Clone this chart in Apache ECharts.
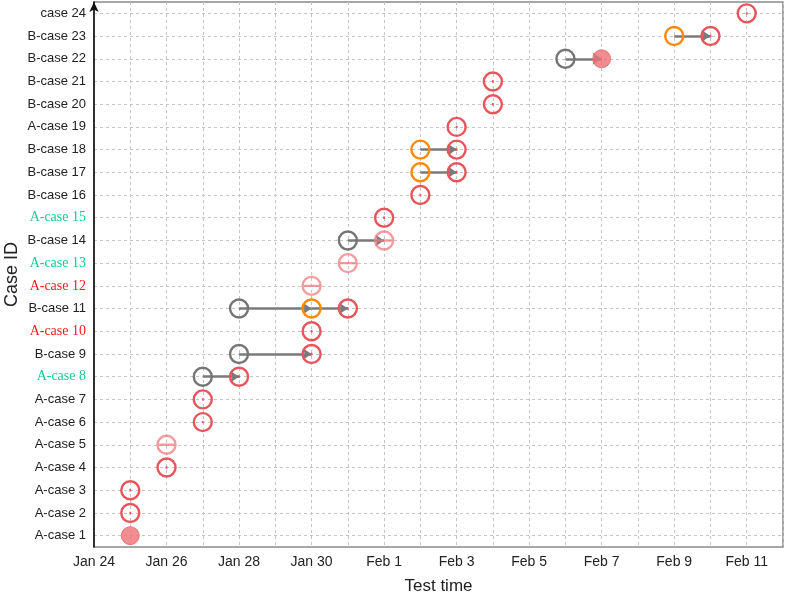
<!DOCTYPE html>
<html>
<head>
<meta charset="utf-8">
<script src="https://cdn.jsdelivr.net/npm/echarts@6/dist/echarts.min.js"></script>
<style>
  html, body { margin: 0; padding: 0; background: #fff; }
  #chart { width: 787px; height: 597px; }
</style>
</head>
<body>
<div id="chart"></div>
<script>
const cases = [
  'A-case 1', 'A-case 2', 'A-case 3', 'A-case 4', 'A-case 5', 'A-case 6',
  'A-case 7', 'A-case 8', 'B-case 9', 'A-case 10', 'B-case 11', 'A-case 12',
  'A-case 13', 'B-case 14', 'A-case 15', 'B-case 16', 'B-case 17', 'B-case 18',
  'A-case 19', 'B-case 20', 'B-case 21', 'B-case 22', 'B-case 23', 'case 24'
]
const greenLabels = ['A-case 8', 'A-case 13', 'A-case 15']
const redLabels = ['A-case 10', 'A-case 12']

const startDate = '01-24'
const tickLabels = ['Jan 24', 'Jan 26', 'Jan 28', 'Jan 30', 'Feb 1', 'Feb 3', 'Feb 5', 'Feb 7', 'Feb 9', 'Feb 11']

// [case, date]
const redPoints = [
  ['A-case 2', '01-25'], ['A-case 3', '01-25'], ['A-case 4', '01-26'],
  ['A-case 6', '01-27'], ['A-case 7', '01-27'], ['A-case 8', '01-28'],
  ['B-case 9', '01-30'], ['A-case 10', '01-30'], ['B-case 11', '01-31'],
  ['A-case 15', '02-01'], ['B-case 16', '02-02'], ['B-case 17', '02-03'],
  ['B-case 18', '02-03'], ['A-case 19', '02-03'], ['B-case 20', '02-04'],
  ['B-case 21', '02-04'], ['B-case 23', '02-10'], ['case 24', '02-11']
]
const lightRedPoints = [
  ['A-case 5', '01-26'], ['A-case 12', '01-30'], ['A-case 13', '01-31'], ['B-case 14', '02-01']
]
const filledPoints = [['A-case 1', '01-25'], ['B-case 22', '02-07']]
const orangePoints = [
  ['B-case 11', '01-30'], ['B-case 17', '02-02'], ['B-case 18', '02-02'], ['B-case 23', '02-09']
]
const grayPoints = [
  ['A-case 8', '01-27'], ['B-case 9', '01-28'], ['B-case 11', '01-28'],
  ['B-case 14', '01-31'], ['B-case 22', '02-06']
]
// [case, from, to]
const arrows = [
  ['A-case 8', '01-27', '01-28'], ['B-case 9', '01-28', '01-30'],
  ['B-case 11', '01-28', '01-30'], ['B-case 11', '01-30', '01-31'],
  ['B-case 14', '01-31', '02-01'], ['B-case 17', '02-02', '02-03'],
  ['B-case 18', '02-02', '02-03'], ['B-case 22', '02-06', '02-07'],
  ['B-case 23', '02-09', '02-10']
]

function dayOf(d) {
  return (Date.parse('2020-' + d) - Date.parse('2020-' + startDate)) / 86400000
}
const toXY = (list) => list.map(([c, d]) => [dayOf(d), c])

const RED = '#e9545b'
const ringDot = 'path://M0,10 A10,10 0 1,1 20,10 A10,10 0 1,1 0,10 Z M9,10 L11,10'
const ringBar = 'path://M0,10 A10,10 0 1,1 20,10 A10,10 0 1,1 0,10 Z M1,10 L19,10'

function ring(name, data, color, symbol, opacity) {
  return {
    name,
    type: 'scatter',
    data: toXY(data),
    symbol,
    symbolSize: 18,
    z: 5,
    itemStyle: { color: 'none', borderColor: color, borderWidth: 2.4, opacity: opacity || 1 },
  }
}

const chart = echarts.init(document.getElementById('chart'))
chart.setOption({
  animation: false,
  grid: {
    left: 94, right: 4, top: 2, bottom: 50,
    outerBoundsMode: 'none',
    containLabel: false,
    show: true, borderColor: '#8a8a8a', borderWidth: 1.5,
  },
  xAxis: {
    type: 'value',
    min: 0,
    max: 19,
    interval: 1,
    name: 'Test time',
    nameLocation: 'middle',
    nameGap: 31,
    nameTextStyle: { fontSize: 17, color: '#222', fontFamily: 'Liberation Sans' },
    axisLine: { lineStyle: { color: '#111', width: 1.6 }, symbol: ['none', 'arrow'], symbolSize: [7, 10] },
    axisTick: { lineStyle: { color: '#111', width: 1.2 }, length: 4 },
    axisLabel: {
      fontSize: 14, color: '#222', fontFamily: 'Liberation Sans', margin: 8,
      formatter: (v) => (v % 2 === 0 && tickLabels[v / 2]) ? tickLabels[v / 2] : '',
    },
    splitLine: { show: true, lineStyle: { color: '#c4c4c4', type: [3, 3], width: 1 } },
  },
  yAxis: {
    type: 'category',
    data: cases,
    boundaryGap: true,
    name: 'Case ID',
    nameLocation: 'middle',
    nameGap: 73,
    nameMoveOverlap: false,
    nameTextStyle: { fontSize: 18, color: '#222', fontFamily: 'Liberation Sans' },
    axisLine: { lineStyle: { color: '#111', width: 1.6 }, symbol: ['none', 'arrow'], symbolSize: [7, 10] },
    axisTick: { alignWithLabel: true, length: 4, lineStyle: { color: '#111', width: 1.2 } },
    axisLabel: {
      fontSize: 13, color: '#222', fontFamily: 'Liberation Sans', margin: 8,
      formatter: (v) => {
        if (greenLabels.includes(v)) return '{g|' + v + '}'
        if (redLabels.includes(v)) return '{r|' + v + '}'
        return v
      },
      rich: {
        g: { color: '#16cc8c', fontFamily: 'Liberation Serif', fontSize: 14 },
        r: { color: '#f41c1c', fontFamily: 'Liberation Serif', fontSize: 14 },
      },
    },
    splitLine: { show: true, alignWithLabel: true, lineStyle: { color: '#c4c4c4', type: [3, 3], width: 1 } },
  },
  series: [
    {
      type: 'lines',
      coordinateSystem: 'cartesian2d',
      z: 3,
      symbol: ['none', 'arrow'],
      symbolSize: 9,
      lineStyle: { color: '#7a7a7a', width: 2.5, opacity: 1 },
      data: arrows.map(([c, a, b]) => ({ coords: [[dayOf(a), c], [dayOf(b), c]] })),
    },
    ring('gray', grayPoints, '#757575', 'circle'),
    ring('orange', orangePoints, '#ff8a00', 'circle'),
    ring('red', redPoints, RED, ringDot),
    ring('light', lightRedPoints, '#ee7b80', ringBar, 0.75),
    {
      name: 'filled',
      type: 'scatter',
      data: toXY(filledPoints),
      symbol: 'circle',
      symbolSize: 18,
      z: 6,
      itemStyle: { color: '#ef7176', borderColor: '#ec6268', borderWidth: 1 },
    },
  ],
})
</script>
</body>
</html>
